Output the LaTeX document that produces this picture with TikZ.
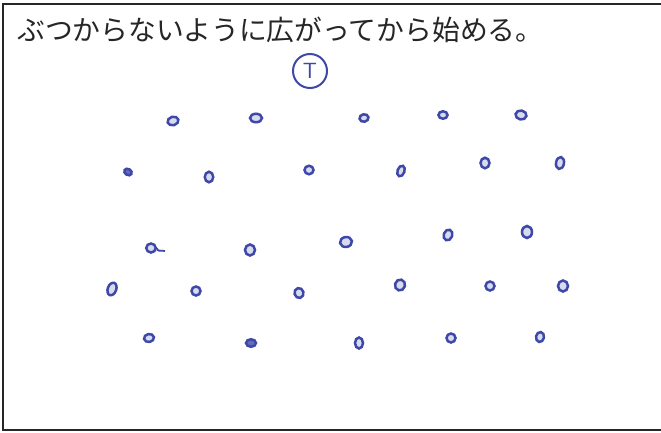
\documentclass[tikz,border=0pt]{standalone}
\usepackage{fontspec}
\newfontfamily\jp{Noto Sans CJK JP}
\usetikzlibrary{shapes.geometric}
\definecolor{pen}{RGB}{62,72,168}
\tikzset{
  dot/.style={ellipse, draw=pen, line width=2.5pt, inner sep=0pt, fill=pen!20},
  blob/.style={ellipse, draw=pen, line width=2.5pt, inner sep=0pt, fill=pen!80},
  frame/.style={line width=1.8pt, draw=black!85},
}
\newcommand{\hdot}[6]{\node[#1, minimum width=#4pt, minimum height=#5pt, rotate=#6] (#2) at #3 {};}
\begin{document}
\begin{tikzpicture}[x=1pt,y=-1pt]
\useasboundingbox (0,0) rectangle (661,432);
\fill[white] (0,0) rectangle (661,432);
% frame
\coordinate (fa) at (661,4);
\coordinate (fb) at (3,4);
\coordinate (fc) at (3,430);
\coordinate (fd) at (661,430);
\draw[frame] (fa) -- (fb) -- (fc) -- (fd);
% title
\node[anchor=west, inner sep=0pt, text=black!85, font=\jp\fontsize{27.8pt}{30pt}\selectfont] (title) at (17,30) {ぶつからないように広がってから始める。};
% teacher
\node[circle, draw=pen, line width=2pt, minimum size=34pt, inner sep=0pt, text=pen, font=\sffamily\fontsize{22pt}{22pt}\selectfont] (T) at (310,71) {T};
% row 1
\hdot{dot}{a1}{(173,121)}{11}{8.5}{15}
\hdot{dot}{a2}{(256,118)}{12}{8.5}{0}
\hdot{dot}{a3}{(364,118)}{9}{7.5}{10}
\hdot{dot}{a4}{(443,115)}{9}{7.5}{0}
\hdot{dot}{a5}{(521,115)}{11}{9}{-10}
% row 2
\hdot{blob}{b1}{(128,172)}{8}{6}{-30}
\hdot{dot}{b2}{(209,177)}{8.5}{10.5}{0}
\hdot{dot}{b3}{(309,170)}{9}{8.5}{0}
\hdot{dot}{b4}{(401,171)}{7}{11}{-20}
\hdot{dot}{b5}{(485,163)}{9}{10.5}{0}
\hdot{dot}{b6}{(560,163)}{8}{12}{-10}
% row 3
\hdot{dot}{c1}{(151,248)}{9.5}{9}{0}
\draw[pen, line width=1.8pt] (c1.east) .. controls (157,252) and (160,250) .. (165,251);
\hdot{dot}{c2}{(250,250)}{10}{11}{0}
\hdot{dot}{c3}{(346,242)}{12}{10}{10}
\hdot{dot}{c4}{(448,235)}{8.5}{11}{-20}
\hdot{dot}{c5}{(527,232)}{10}{12}{0}
% row 4
\hdot{dot}{d1}{(112,289)}{8.5}{13}{-20}
\hdot{dot}{d2}{(196,291)}{9}{9}{0}
\hdot{dot}{d3}{(299,293)}{9}{10}{15}
\hdot{dot}{d4}{(400,285)}{10}{11}{-15}
\hdot{dot}{d5}{(490,286)}{9}{9}{0}
\hdot{dot}{d6}{(563,286)}{10}{11}{0}
% row 5
\hdot{dot}{e1}{(149,338)}{10}{8}{10}
\hdot{blob}{e2}{(251,343)}{10}{7.5}{0}
\hdot{dot}{e3}{(359,343)}{8}{11}{0}
\hdot{dot}{e4}{(451,338)}{9}{9}{0}
\hdot{dot}{e5}{(540,337)}{8}{10}{-10}
\end{tikzpicture}
\end{document}
